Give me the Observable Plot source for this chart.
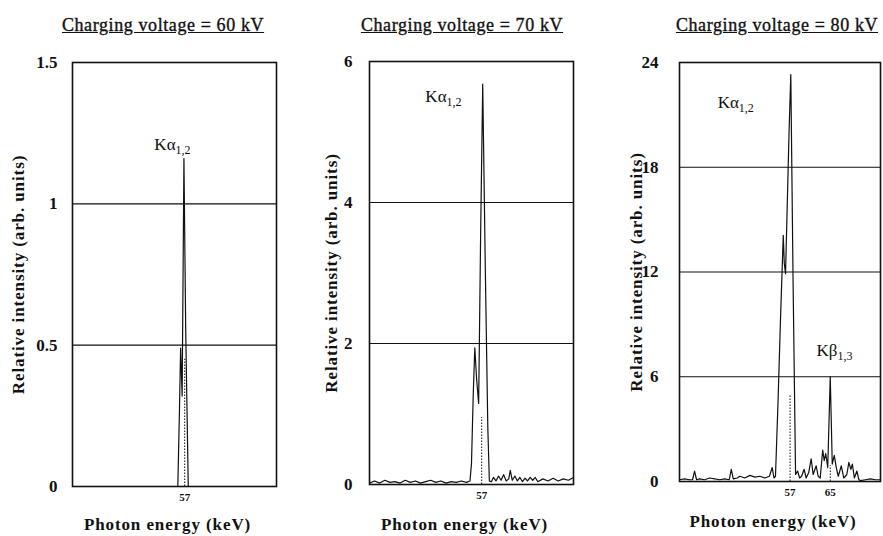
<!DOCTYPE html>
<html><head><meta charset="utf-8">
<script src="https://cdn.jsdelivr.net/npm/d3@7"></script>
<script src="https://cdn.jsdelivr.net/npm/@observablehq/plot@0.6"></script>
<style>
body{margin:0;background:#fff;}
#root{position:relative;width:883px;height:536px;overflow:hidden;font-family:"Liberation Serif","Times New Roman",serif;color:#111;}
.title{position:absolute;top:15px;font-size:18px;font-weight:normal;letter-spacing:0.6px;text-decoration:underline;white-space:nowrap;transform:translateX(-50%);line-height:21px;-webkit-text-stroke:0.35px #111;}
.panel{position:absolute;top:45px;}
</style></head><body><div id="root"></div>
<script>
// ---- data ----
const titles = ["Charging voltage = 60 kV", "Charging voltage = 70 kV", "Charging voltage = 80 kV"];
const xLabel = "Photon energy (keV)";
const yLabel = "Relative intensity (arb. units)";
const energyDomain = [35, 75];

const yTicks60 = [0, 0.5, 1, 1.5];
const yTicks70 = [0, 2, 4, 6];
const yTicks80 = [0, 6, 12, 18, 24];
const xTicks60 = [57];
const xTicks70 = [57];
const xTicks80 = [57, 65];

// [energy keV, relative intensity]
const spectrum60 = [[35,0],[55.65,0],[55.95,0.25],[56.2,0.49],[56.5,0.32],[56.85,1.16],[57.2,0.55],[57.7,0],[75,0]];
const spectrum70 = [[35,0.02],[36,0.05],[37,0.02],[38,0.06],[39,0.03],[40,0.04],[41,0.02],[42,0.06],[43,0.03],[44,0.05],[45,0.02],[46,0.04],[47,0.06],[48,0.03],[49,0.05],[50,0.02],[51,0.04],[52,0.03],[53,0.05],[54,0.03],[54.7,0.05],[55.0,0.3],[55.35,1.3],[55.65,1.94],[56.0,1.5],[56.4,1.15],[56.8,3.6],[57.2,5.68],[57.7,3.1],[58.2,0.8],[58.5,0.05],[58.9,0.04],[59.3,0.1],[59.8,0.05],[60.3,0.12],[60.8,0.06],[61.3,0.14],[61.8,0.05],[62.3,0.08],[62.6,0.2],[63.0,0.06],[63.5,0.12],[64,0.05],[64.5,0.1],[65,0.04],[65.5,0.09],[66,0.05],[66.5,0.1],[67,0.06],[67.5,0.1],[68,0.04],[69,0.08],[70,0.05],[71,0.09],[72,0.05],[73,0.08],[74,0.06],[75,0.1]];
const spectrum80 = [[35,0.1],[36,0.15],[37,0.1],[37.6,0.1],[38,0.6],[38.4,0.1],[39,0.15],[40,0.1],[41,0.2],[42,0.15],[43,0.1],[44,0.15],[44.9,0.1],[45.3,0.7],[45.7,0.15],[46.5,0.2],[47,0.3],[48,0.2],[49,0.35],[50,0.25],[51,0.3],[52,0.2],[52.9,0.3],[53.45,0.8],[53.8,0.2],[54.1,0.3],[54.6,4.5],[55.1,9.3],[55.65,14.1],[55.85,12.5],[56.1,11.9],[56.5,16.5],[56.8,20],[57.15,23.3],[57.6,11.5],[58.1,0.4],[58.5,0.6],[58.9,0.2],[59.3,0.3],[59.8,0.7],[60.2,0.2],[60.7,0.5],[61.2,1.3],[61.6,0.4],[62.2,0.9],[62.6,0.3],[63.0,0.2],[63.5,1.8],[63.8,1.2],[64.1,1.6],[64.5,0.8],[65.0,6.0],[65.4,1.0],[65.8,1.5],[66.2,0.8],[66.6,0.3],[67.2,0.9],[67.7,0.2],[68.3,0.4],[68.7,1.1],[69.1,0.7],[69.4,1.0],[69.8,0.2],[70.3,0.6],[70.7,0.1],[71,0.05],[72,0.1],[73,0.15],[74,0.1],[75,0.1]];

// dotted reference lines [energy, height]
const dotted60 = [[57,0.45]];
const dotted70 = [[57,0.95]];
const dotted80 = [[57,4.9],[65,0.9]];

// peak annotations [energy, intensity, label]
const notes60 = [[54.6,1.21,"Kα|1,2"]];
const notes70 = [[49.5,5.5,"Kα|1,2"]];
const notes80 = [[46.2,21.7,"Kα|1,2"],[65.85,7.5,"Kβ|1,3"]];

// ---- layout ----
const panels = [
  {spec:spectrum60, yTicks:yTicks60, xTicks:xTicks60, dotted:dotted60, notes:notes60, left:0, width:300, mL:72, mR:24, mT:17, mB:50, yPad:15, yDx:-54, xDy:38, tx:163},
  {spec:spectrum70, yTicks:yTicks70, xTicks:xTicks70, dotted:dotted70, notes:notes70, left:300, width:300, mL:69, mR:27, mT:16, mB:52, yPad:17, yDx:-38, xDy:40, tx:462},
  {spec:spectrum80, yTicks:yTicks80, xTicks:xTicks80, dotted:dotted80, notes:notes80, left:600, width:283, mL:79, mR:3, mT:17, mB:55, yPad:21, yDx:-43, xDy:40, tx:777}
];
const root = document.getElementById("root");
const ink = "#111";

panels.forEach((p, i) => {
  const t = document.createElement("div");
  t.className = "title";
  t.style.left = p.tx + "px";
  t.textContent = titles[i];
  root.appendChild(t);

  const data = p.spec.map(([e, v]) => ({e, v}));
  const dots = p.dotted.map(([e, v]) => ({e, v}));
  const notes = p.notes.map(([e, v, label]) => ({e, v, label}));
  const yMax = p.yTicks[p.yTicks.length - 1];
  const grid = p.yTicks.slice(1, -1);

  const svg = Plot.plot({
    width: p.width, height: 491,
    marginLeft: p.mL, marginRight: p.mR, marginTop: p.mT, marginBottom: p.mB,
    x: {domain: energyDomain},
    y: {domain: [0, yMax]},
    style: {fontFamily: '"Liberation Serif","Times New Roman",serif', fontSize: "17px", color: ink, background: "transparent", overflow: "visible"},
    marks: [
      Plot.ruleY(grid, {stroke: ink, strokeWidth: 1.1}),
      Plot.line(data, {x: "e", y: "v", stroke: ink, strokeWidth: 1.2}),
      Plot.ruleX(dots, {x: "e", y1: 0, y2: "v", stroke: ink, strokeWidth: 1, strokeDasharray: "1.5,1.5"}),
      Plot.frame({stroke: ink, strokeWidth: 1.6}),
      Plot.axisY({ticks: p.yTicks, tickSize: 0, tickPadding: p.yPad, tickFormat: d => String(d), fontSize: 17, fontWeight: "bold", label: null}),
      Plot.axisX({ticks: p.xTicks, tickSize: 0, tickPadding: 7, tickFormat: d => String(d), fontSize: 11, fontWeight: "bold", label: null}),
      Plot.text([yLabel], {frameAnchor: "left", rotate: -90, dx: p.yDx, textAnchor: "middle", lineAnchor: "middle", fontSize: 17, fontWeight: "bold"}),
      Plot.text([xLabel], {frameAnchor: "bottom", dy: p.xDy, dx: -7, textAnchor: "middle", lineAnchor: "middle", fontSize: 17, fontWeight: "bold"}),
      Plot.text(notes, {x: "e", y: "v", text: "label", fontSize: 17, textAnchor: "middle", lineAnchor: "middle"})
    ]
  });
  svg.classList.add("panel");
  svg.style.left = p.left + "px";
  // letter spacing for axis titles, subscripts for line labels
  svg.querySelectorAll("text").forEach(node => {
    const s = node.textContent;
    if (s === yLabel || s === xLabel) node.setAttribute("letter-spacing", "0.9");
    if (s.includes("|")) {
      const [main, sub] = s.split("|");
      node.textContent = "";
      const a = document.createElementNS("http://www.w3.org/2000/svg", "tspan");
      a.textContent = main;
      const b = document.createElementNS("http://www.w3.org/2000/svg", "tspan");
      b.textContent = sub;
      b.setAttribute("font-size", "12");
      b.setAttribute("dy", "4");
      node.appendChild(a); node.appendChild(b);
    }
  });
  root.appendChild(svg);
});
</script>
</body></html>
